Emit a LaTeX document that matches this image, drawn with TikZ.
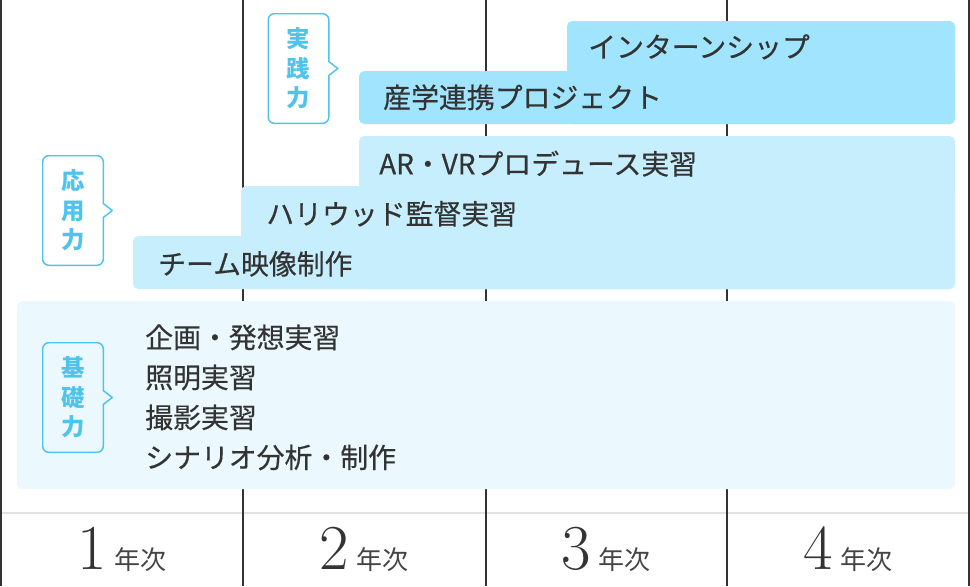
\documentclass[tikz,border=0pt]{standalone}
\usepackage{fontspec}
\newfontfamily\jpfont{Noto Sans CJK JP}[FakeBold=0.4]
\newfontfamily\tagfont{Noto Sans CJK JP}
\usepackage{xcolor}
\usetikzlibrary{calc,positioning}

\definecolor{GridLine}{HTML}{333333}
\definecolor{FootLine}{HTML}{E2E2E2}
\definecolor{TextGray}{HTML}{333333}
\definecolor{YearGray}{HTML}{444444}
\definecolor{SkillBlue}{HTML}{4FC3EC}
\definecolor{PracticeFill}{HTML}{A0E4FD}
\definecolor{AppliedFill}{HTML}{C6EEFD}
\definecolor{BasicFill}{HTML}{EBF8FE}

\begin{document}
\begin{tikzpicture}[x=0.75pt,y=-0.75pt]

	\tikzstyle{grid} = [draw=GridLine, line width=1.5pt]
	\tikzstyle{course} = [anchor=west, inner sep=0pt, yshift=-4pt, text=TextGray,
			font=\jpfont\fontsize{20.9}{24}\selectfont, text height=0.83em, text depth=0.07em]
	\tikzstyle{skill} = [minimum width=45pt, minimum height=81.75pt, inner sep=0pt, align=center,
			text=SkillBlue, font=\tagfont\fontsize{17.5}{22}\selectfont\bfseries]
	\tikzstyle{bubble} = [draw=SkillBlue, line width=1.1pt, rounded corners=4.5pt]
	\tikzstyle{pointer} = [draw=SkillBlue, line width=1.1pt, line join=round, line cap=round]
	\tikzstyle{year} = [anchor=base, inner sep=0pt, text=YearGray, font=\tagfont\fontsize{19.5}{24}\selectfont]

	\useasboundingbox (0,0) rectangle (970,586);

	\draw [line width=1.5pt, FootLine] (0,513) -- (970,513);
	\foreach \x in {1,243,486,727,969}
		\draw [grid] (\x,0) -- (\x,586);

	\foreach \n/\x in {1/122,2/364,3/606,4/848}
		\node[year] (year\n) at (\x,569) {{\rmfamily\color{TextGray}\fontsize{48}{48}\selectfont \n}\hspace{5pt}年次};

	% bars
	\fill [BasicFill, rounded corners=4pt] (17,301) rectangle (955,489);
	\foreach \l/\t in {359/136,241/186,133/236}
		\fill [AppliedFill, rounded corners=4pt] (\l,\t) rectangle (955,289);
	\foreach \l/\t in {567/21,359/71}
		\fill [PracticeFill, rounded corners=4pt] (\l,\t) rectangle (955,124);

	\node[course] (intern) at (588,47) {インターンシップ};
	\node[course] (sangaku) at (383,97.5) {産学連携プロジェクト};
	\node[course] (arvr) at (379,164) {AR・VRプロデュース実習};
	\node[course] (hollywood) at (266,214) {ハリウッド監督実習};
	\node[course] (team) at (158,264) {チーム映像制作};

	\foreach \t [count=\i] in {企画・発想実習,照明実習,撮影実習,シナリオ分析・制作}
		\node[course] (basic\i) at (145,{297.5+40*\i}) {\t};

	% skill tags
	\node[skill] (jissen) at (298.5,68.5) {実\\践\\力};
	\node[skill] (ouyou) at (73,210.5) {応\\用\\力};
	\node[skill] (kiso) at (73,397.5) {基\\礎\\力};

	\foreach \s in {jissen,ouyou,kiso} {
		\draw [bubble] ($(\s.east)+(0,7)$) -- (\s.south east) -- (\s.south west)
			-- (\s.north west) -- (\s.north east) -- ($(\s.east)+(0,-7)$);
		\draw [pointer] ($(\s.east)+(0,-7)$) -- ($(\s.east)+(9,0)$) -- ($(\s.east)+(0,7)$);
	}
\end{tikzpicture}
\end{document}
